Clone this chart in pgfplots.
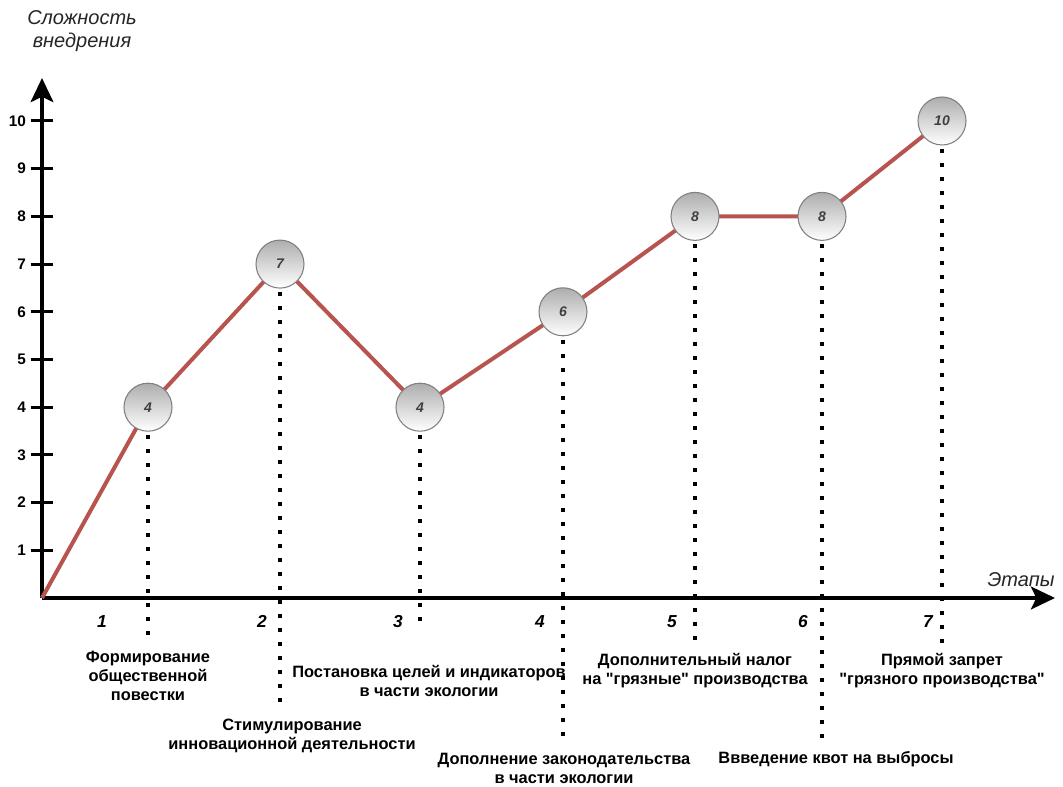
\documentclass[border=0pt]{standalone}
\usepackage{fontspec}
\setmainfont{Liberation Sans}
\usepackage{pgfplots}
\pgfplotsset{compat=1.18}
\usetikzlibrary{arrows.meta}
\definecolor{redline}{HTML}{B85450}
\begin{document}
\begin{tikzpicture}
\useasboundingbox (-31.5pt,-141.75pt) rectangle (765.75pt,448.5pt);
\begin{axis}[
  at={(0,0)}, anchor=origin,
  x=75pt, y=35.775pt,
  xmin=0, xmax=10.13, ymin=0, ymax=10.9,
  axis lines=left,
  clip=false,
  axis line style={line width=3pt, -{Stealth[length=18pt,width=17pt,inset=4pt]}},
  xtick=\empty,
  ytick={1,2,3,4,5,6,7,8,9,10},
  tick align=center,
  major tick length=17pt,
  tick style={line width=2.25pt, black},
  /pgf/number format/assume math mode=true,
  yticklabel style={font=\bfseries\fontsize{11.5pt}{13pt}\selectfont},
]
% dotted leader lines
\addplot[black, line width=3pt, dash pattern=on 3pt off 7.5pt] coordinates {(1.06,4) (1.06,-0.94)};
\addplot[black, line width=3pt, dash pattern=on 3pt off 7.5pt] coordinates {(2.38,7) (2.38,-2.20)};
\addplot[black, line width=3pt, dash pattern=on 3pt off 7.5pt] coordinates {(3.78,4) (3.78,-0.67)};
\addplot[black, line width=3pt, dash pattern=on 3pt off 7.5pt] coordinates {(5.21,6) (5.21,-3.02)};
\addplot[black, line width=3pt, dash pattern=on 3pt off 7.5pt] coordinates {(6.53,8) (6.53,-0.94)};
\addplot[black, line width=3pt, dash pattern=on 3pt off 7.5pt] coordinates {(7.80,8) (7.80,-3.08)};
\addplot[black, line width=3pt, dash pattern=on 3pt off 7.5pt] coordinates {(9.00,10) (9.00,-0.94)};
% main line
\addplot[redline, line width=3pt] coordinates {(0,0) (1.06,4) (2.38,7) (3.78,4) (5.21,6) (6.53,8) (7.80,8) (9.00,10)};
% circles
\addplot[draw=none, point meta=explicit symbolic, nodes near coords,
  every node near coord/.append style={anchor=center, circle, minimum size=36pt, inner sep=0pt,
    draw=black!50, line width=0.8pt, top color=black!32, bottom color=white,
    text=black!75, font=\bfseries\itshape\fontsize{10.5pt}{12pt}\selectfont}]
  coordinates {(1.06,4) [4] (2.38,7) [7] (3.78,4) [4] (5.21,6) [6] (6.53,8) [8] (7.80,8) [8] (9.00,10) [10]};
% stage numbers
\begin{scope}[every node/.style={font=\bfseries\itshape\fontsize{13pt}{15pt}\selectfont}]
\node at (axis cs:0.60,-0.50) {1};
\node at (axis cs:2.20,-0.50) {2};
\node at (axis cs:3.56,-0.50) {3};
\node at (axis cs:4.98,-0.50) {4};
\node at (axis cs:6.30,-0.50) {5};
\node at (axis cs:7.61,-0.50) {6};
\node at (axis cs:8.86,-0.50) {7};
\end{scope}
% labels
\begin{scope}[every node/.style={align=center, font=\bfseries\fontsize{12.3pt}{14.25pt}\selectfont}]
\node at (axis cs:1.06,-1.635) {Формирование\\общественной\\повестки};
\node at (axis cs:2.50,-2.89) {Стимулирование\\инновационной деятельности};
\node at (axis cs:3.87,-1.74) {Постановка целей и индикаторов\\в части экологии};
\node at (axis cs:5.22,-3.57) {Дополнение законодательства\\в части экологии};
\node at (axis cs:6.53,-1.53) {Дополнительный налог\\на \textquotedbl грязные\textquotedbl{} производства};
\node at (axis cs:7.94,-3.375) {Ввведение квот на выбросы};
\node at (axis cs:9.00,-1.53) {Прямой запрет\\\textquotedbl грязного производства\textquotedbl};
\end{scope}
\node[align=center, font=\itshape\fontsize{15pt}{17.5pt}\selectfont, text=black!85] at (axis cs:0.40,11.88) {Сложность\\внедрения};
\node[font=\itshape\fontsize{15pt}{17pt}\selectfont, text=black!85] at (axis cs:9.79,0.377) {Этапы};
\end{axis}
\end{tikzpicture}
\end{document}
